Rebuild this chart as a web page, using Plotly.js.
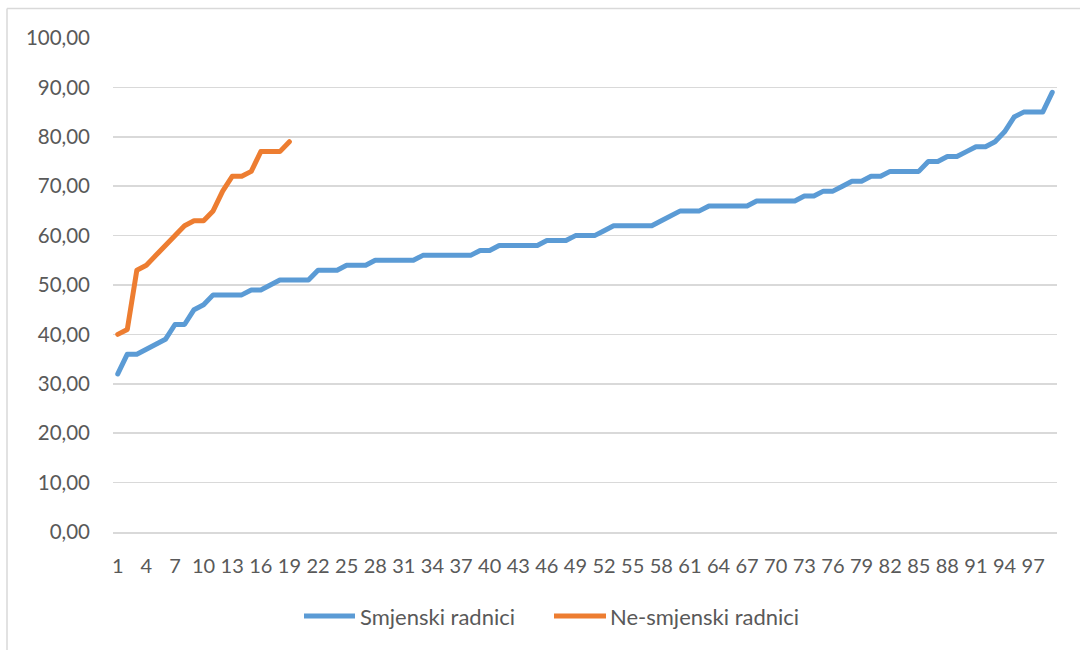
<!DOCTYPE html>
<html>
<head>
<meta charset="utf-8">
<script src="https://cdn.plot.ly/plotly-3.0.1.min.js"></script>
<style>html,body{margin:0;padding:0;background:#fff;}#chart{width:1080px;height:650px;}</style>
</head>
<body>
<div id="chart"></div>
<script>
// Data
const smjenskiRadnici = [32,36,36,37,38,39,42,42,45,46,48,48,48,48,49,49,50,51,51,51,
  51,53,53,53,54,54,54,55,55,55,55,55,56,56,56,56,56,56,57,57,
  58,58,58,58,58,59,59,59,60,60,60,61,62,62,62,62,62,63,64,65,
  65,65,66,66,66,66,66,67,67,67,67,67,68,68,69,69,70,71,71,72,
  72,73,73,73,73,75,75,76,76,77,78,78,79,81,84,85,85,85,89];
const neSmjenskiRadnici = [40,41,53,54,56,58,60,62,63,63,65,69,72,72,73,77,77,77,79];
const seriesNames = ["Smjenski radnici", "Ne-smjenski radnici"];
const seriesColors = ["#5B9BD5", "#ED7D31"];
const xTickVals = [];
for (let v = 1; v <= 97; v += 3) xTickVals.push(v);
const yTickVals = [0,10,20,30,40,50,60,70,80,90,100];

const xBlue = smjenskiRadnici.map((_, i) => i + 1);
const xOrange = neSmjenskiRadnici.map((_, i) => i + 1);

const W = 1080, H = 650;
const mL = 113, mR = 23, mT = 38, mB = 118;
const pw = W - mL - mR, ph = H - mT - mB;
const px = x => (x - mL) / pw;
const py = y => (H - mB - y) / ph;

const font = "Lato, 'Open Sans', sans-serif";
const textColor = "#595959";
const lineW = 5;

const traces = [
  {x: xBlue, y: smjenskiRadnici, name: seriesNames[0], type: "scatter", mode: "lines",
   line: {color: seriesColors[0], width: lineW}, showlegend: false},
  {x: xOrange, y: neSmjenskiRadnici, name: seriesNames[1], type: "scatter", mode: "lines",
   line: {color: seriesColors[1], width: lineW}, showlegend: false}
];

// legend drawn as shapes + text
const legendY = 616;
const legendItems = [
  {x0: 304, x1: 355, tx: 358},
  {x0: 554, x1: 606, tx: 608}
];
const legendShapes = legendItems.map((it, i) => ({
  type: "line", xref: "paper", yref: "paper",
  x0: px(it.x0), x1: px(it.x1), y0: py(legendY), y1: py(legendY),
  line: {color: seriesColors[i], width: lineW}
}));
const legendAnn = legendItems.map((it, i) => ({
  xref: "paper", yref: "paper", x: px(it.tx), y: py(legendY),
  xanchor: "left", yanchor: "middle", showarrow: false,
  text: seriesNames[i], font: {family: font, size: 22, color: textColor}
}));

const layout = {
  width: W, height: H,
  margin: {l: mL, r: mR, t: mT, b: mB},
  paper_bgcolor: "#ffffff", plot_bgcolor: "#ffffff",
  separators: ", ",
  font: {family: font, size: 20, color: textColor},
  xaxis: {
    range: [0.5, smjenskiRadnici.length + 0.5],
    tickmode: "array", tickvals: xTickVals, ticktext: xTickVals.map(String),
    showgrid: false, zeroline: false,
    showline: true, linecolor: "#D9D9D9", linewidth: 1.5,
    ticks: "", ticklabelstandoff: 15,
    tickfont: {family: font, size: 20, color: textColor},
    fixedrange: true
  },
  yaxis: {
    range: [0, 100], tickmode: "array", tickvals: yTickVals,
    tickformat: ".2f",
    showgrid: true, gridcolor: "#D9D9D9", gridwidth: 1.5,
    zeroline: false, showline: false, ticks: "",
    ticklabelstandoff: 22,
    tickfont: {family: font, size: 20.5, color: textColor},
    fixedrange: true
  },
  showlegend: false,
  annotations: legendAnn,
  shapes: [
    {type: "line", xref: "paper", yref: "paper", x0: px(7), x1: px(7), y0: py(8.5), y1: py(660),
     line: {color: "#D9D9D9", width: 1.5}},
    {type: "line", xref: "paper", yref: "paper", x0: px(7), x1: px(1090), y0: py(8.5), y1: py(8.5),
     line: {color: "#D9D9D9", width: 1.5}}
  ].concat(legendShapes)
};

Plotly.newPlot("chart", traces, layout, {displayModeBar: false, staticPlot: true}).then(() => {
  document.querySelectorAll(".scatterlayer path.js-line").forEach(p => {
    p.style.strokeLinejoin = "round"; p.style.strokeLinecap = "round";
  });
});
</script>
</body>
</html>
